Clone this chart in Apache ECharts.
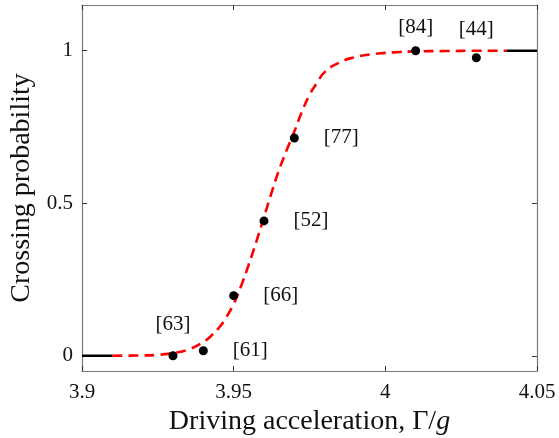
<!DOCTYPE html>
<html>
<head>
<meta charset="utf-8">
<script src="https://cdn.jsdelivr.net/npm/echarts@6/dist/echarts.min.js"></script>
<style>
html,body{margin:0;padding:0;background:#fff;}
#c{width:559px;height:438px;}
</style>
</head>
<body>
<div id="c"></div>
<script>
// Measured points: driving acceleration, crossing probability, number of trials
var accel = [3.93, 3.94, 3.95, 3.96, 3.97, 4.01, 4.03];
var prob = [0.0, 0.0164, 0.197, 0.442, 0.714, 1.0, 0.977];
var trials = [63, 61, 66, 52, 77, 84, 44];

// Fitted curve (red dashed)
var fitX = [3.91, 3.915, 3.92, 3.925, 3.93, 3.935, 3.94, 3.9425, 3.945, 3.9475, 3.95, 3.9525, 3.955, 3.9575, 3.96, 3.9625, 3.965, 3.9675, 3.97, 3.9725, 3.975, 3.9775, 3.98, 3.985, 3.99, 3.995, 4.0, 4.005, 4.01, 4.02, 4.03, 4.04];
var fitY = [0.0, 0.0005, 0.001, 0.003, 0.009, 0.02, 0.045, 0.065, 0.09, 0.125, 0.17, 0.23, 0.30, 0.375, 0.455, 0.535, 0.61, 0.675, 0.735, 0.80, 0.855, 0.895, 0.93, 0.962, 0.979, 0.988, 0.993, 0.996, 0.998, 0.999, 1.0, 1.0];

// Black end segments
var lowX = [3.9, 3.91], lowY = [0, 0];
var highX = [4.04, 4.05], highY = [1, 1];

var xTicks = [3.9, 3.95, 4, 4.05];
var yTicks = [0, 0.5, 1];

function pairs(xs, ys) { return xs.map(function (x, i) { return [x, ys[i]]; }); }

var FONT = 'Liberation Serif';
var TXT = '#111';
var aboveIdx = [0, 5, 6];
var aboveDist = { 0: 16, 5: 8, 6: 13 };

var pointData = accel.map(function (x, i) {
  var above = aboveIdx.indexOf(i) >= 0;
  return {
    value: [x, prob[i]],
    label: {
      show: true,
      formatter: '[' + trials[i] + ']',
      position: above ? 'top' : 'right',
      distance: above ? aboveDist[i] : 25
    }
  };
});

var axisLineStyle = { color: '#7a7a7a', width: 1.2 };
var tickStyle = { color: '#333', width: 1 };

var chart = echarts.init(document.getElementById('c'), null, { renderer: 'canvas' });
chart.setOption({
  animation: false,
  backgroundColor: '#fff',
  grid: { left: 82, right: 22, top: 5, bottom: 67, containLabel: false, outerBoundsMode: 'none' },
  xAxis: [{
    type: 'value', min: 3.9, max: 4.05, position: 'bottom',
    axisLine: { show: true, onZero: false, lineStyle: axisLineStyle },
    axisTick: { show: true, inside: true, length: 5, lineStyle: tickStyle, customValues: xTicks },
    axisLabel: { show: true, customValues: xTicks, fontFamily: FONT, fontSize: 21, color: TXT, margin: 11,
      formatter: function (v) { return String(+v.toFixed(2)); } },
    splitLine: { show: false },
    name: '{n|Driving acceleration, Γ/}{i|g}',
    nameLocation: 'middle', nameGap: 32,
    nameTextStyle: { rich: {
      n: { fontFamily: FONT, fontSize: 28, color: TXT },
      i: { fontFamily: FONT, fontSize: 28, fontStyle: 'italic', color: TXT }
    } }
  }, {
    type: 'value', min: 3.9, max: 4.05, position: 'top',
    axisLine: { show: true, onZero: false, lineStyle: axisLineStyle },
    axisTick: { show: true, inside: true, length: 5, lineStyle: tickStyle, customValues: xTicks },
    axisLabel: { show: false }, splitLine: { show: false }
  }],
  yAxis: [{
    type: 'value', min: -0.05, max: 1.15, position: 'left',
    axisLine: { show: true, onZero: false, lineStyle: axisLineStyle },
    axisTick: { show: true, inside: true, length: 5, lineStyle: tickStyle, customValues: yTicks },
    axisLabel: { show: true, customValues: yTicks, fontFamily: FONT, fontSize: 21, color: TXT, margin: 9 },
    splitLine: { show: false },
    name: 'Crossing probability', nameLocation: 'middle', nameGap: 43,
    nameTextStyle: { fontFamily: FONT, fontSize: 28, color: TXT }
  }, {
    type: 'value', min: -0.05, max: 1.15, position: 'right',
    axisLine: { show: true, onZero: false, lineStyle: axisLineStyle },
    axisTick: { show: true, inside: true, length: 5, lineStyle: tickStyle, customValues: yTicks },
    axisLabel: { show: false }, splitLine: { show: false }
  }],
  series: [{
    type: 'line', data: pairs(fitX, fitY), smooth: true, showSymbol: false, symbol: 'none',
    lineStyle: { color: '#ff0000', width: 2.6, type: [10, 6] }, z: 2
  }, {
    type: 'line', data: pairs(lowX, lowY), showSymbol: false, symbol: 'none',
    lineStyle: { color: '#000', width: 2.6 }, z: 2
  }, {
    type: 'line', data: pairs(highX, highY), showSymbol: false, symbol: 'none',
    lineStyle: { color: '#000', width: 2.6 }, z: 2
  }, {
    type: 'scatter', data: pointData, symbol: 'circle', symbolSize: 9,
    itemStyle: { color: '#000', opacity: 1 }, z: 3,
    label: { fontFamily: FONT, fontSize: 21, color: TXT }
  }]
});
</script>
</body>
</html>
